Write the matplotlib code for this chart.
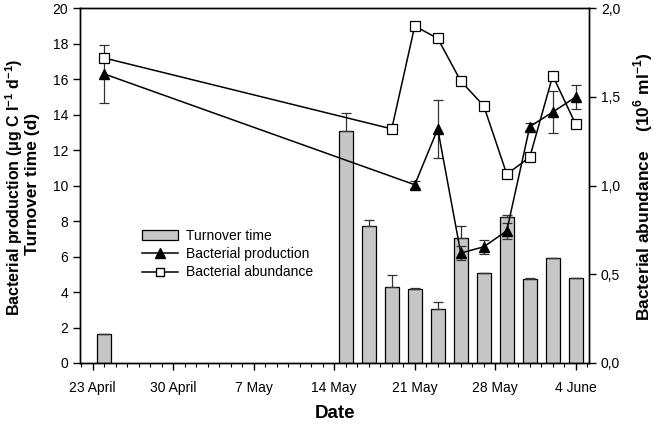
import numpy as np
import pandas as pd
import matplotlib
matplotlib.use("Agg")
import matplotlib.pyplot as plt
import matplotlib.dates as mdates
from matplotlib.patches import Patch
from matplotlib.lines import Line2D

plt.rcParams['font.family'] = ['Liberation Sans', 'DejaVu Sans']
plt.rcParams['mathtext.fontset'] = 'custom'
plt.rcParams['mathtext.rm'] = 'Liberation Sans'
plt.rcParams['mathtext.bf'] = 'Liberation Sans:bold'

# turnover time (bars, left axis, d)
bar_dates = ['2000-04-24', '2000-05-15', '2000-05-17', '2000-05-19', '2000-05-21', '2000-05-23',
             '2000-05-25', '2000-05-27', '2000-05-29', '2000-05-31', '2000-06-02', '2000-06-04']
turnover = [1.65, 13.1, 7.7, 4.3, 4.15, 3.05, 7.05, 5.05, 8.25, 4.75, 5.9, 4.78]
turnover_err = [0.0, 1.0, 0.35, 0.65, 0.1, 0.4, 0.7, 0.05, 0.1, 0.07, 0.03, 0.04]

# bacterial production (left axis, ug C l-1 d-1)
prod_dates = ['2000-04-24', '2000-05-21', '2000-05-23', '2000-05-25', '2000-05-27',
              '2000-05-29', '2000-05-31', '2000-06-02', '2000-06-04']
production = [16.3, 10.05, 13.2, 6.2, 6.55, 7.45, 13.33, 14.15, 15.0]
production_err = [1.65, 0.2, 1.65, 0.4, 0.38, 0.45, 0.2, 1.2, 0.7]

# bacterial abundance (right axis, 10^6 ml-1)
abund_dates = ['2000-04-24', '2000-05-19', '2000-05-21', '2000-05-23', '2000-05-25',
               '2000-05-27', '2000-05-29', '2000-05-31', '2000-06-02', '2000-06-04']
abundance = [1.72, 1.32, 1.90, 1.83, 1.59, 1.45, 1.065, 1.16, 1.62, 1.345]

tick_dates = ['2000-04-23', '2000-04-30', '2000-05-07', '2000-05-14', '2000-05-21', '2000-05-28', '2000-06-04']
tick_labels = ['23 April', '30 April', '7 May', '14 May', '21 May', '28 May', '4 June']

bx = mdates.date2num(pd.to_datetime(bar_dates))
px = mdates.date2num(pd.to_datetime(prod_dates))
ax_ = mdates.date2num(pd.to_datetime(abund_dates))
tx = mdates.date2num(pd.to_datetime(tick_dates))

fig = plt.figure(figsize=(6.57, 4.24), dpi=100)
ax = fig.add_axes([0.1218, 0.1439, 0.7747, 0.8365])
ax2 = ax.twinx()

ax.bar(bx, turnover, width=1.25, color='#c6c6c6', edgecolor='black', linewidth=0.9, zorder=2)
ax.errorbar(bx, turnover, yerr=[np.zeros(len(turnover)), turnover_err], fmt='none',
            ecolor='#333333', elinewidth=0.9, capsize=3.5, capthick=0.9, zorder=2)

ax.errorbar(px, production, yerr=production_err, fmt='none', ecolor='#333333',
            elinewidth=0.9, capsize=3.5, capthick=0.9, zorder=3)
ax.plot(px, production, color='black', lw=1.1, marker='^', ms=7.5, mfc='black', mec='black', zorder=4)

ax2.plot(ax_, abundance, color='black', lw=1.1, marker='s', ms=6.5, mfc='white', mec='black', mew=0.9, zorder=4)

ax.set_xlim(tx[0] - 1.1, tx[-1] + 1.15)
ax.set_ylim(0, 20)
ax2.set_ylim(0, 2.0)

ax.set_xticks(tx)
ax.set_xticklabels(tick_labels)
ax.xaxis.set_minor_locator(mdates.DayLocator())
ax.set_yticks(np.arange(0, 21, 2))
ax2.set_yticks(np.arange(0, 2.01, 0.5))
ax2.set_yticklabels([f'{v:.1f}'.replace('.', ',') for v in np.arange(0, 2.01, 0.5)])

ax.tick_params(axis='both', which='major', direction='out', length=5, width=1, labelsize=10)
ax.tick_params(axis='x', which='minor', direction='out', length=3, width=0.8)
ax.tick_params(axis='x', pad=8)
ax2.tick_params(axis='y', direction='out', length=5, width=1, labelsize=10)

for a in (ax, ax2):
    for s in a.spines.values():
        s.set_linewidth(1)

ax.set_xlabel('Date', fontsize=13.5, fontweight='bold', labelpad=7)

# y labels placed as figure text
fig.text(14 / 657, 1 - 187 / 424, 'Bacterial production ($\\mathbf{\\mu}$g C l$^{\\mathbf{-1}}$ d$^{\\mathbf{-1}}$)',
         rotation=90, ha='center', va='center', fontsize=11.5, fontweight='bold')
fig.text(33 / 657, 1 - 184 / 424, 'Turnover time (d)', rotation=90, ha='center', va='center',
         fontsize=12.5, fontweight='bold')
fig.text(643 / 657, 1 - 187 / 424, 'Bacterial abundance    (10$^{\\mathbf{6}}$ ml$^{\\mathbf{-1}}$)',
         rotation=90, ha='center', va='center', fontsize=12.5, fontweight='bold')

handles = [Patch(facecolor='#c6c6c6', edgecolor='black', linewidth=0.9),
           Line2D([], [], color='black', lw=1.1, marker='^', ms=7, mfc='black'),
           Line2D([], [], color='black', lw=1.1, marker='s', ms=6, mfc='white')]
ax.legend(handles, ['Turnover time', 'Bacterial production', 'Bacterial abundance'],
          loc='upper left', bbox_to_anchor=(0.11, 0.393), frameon=False, fontsize=10,
          handlelength=2.6, handletextpad=0.6, labelspacing=0.3, borderaxespad=0)

fig.savefig('out.png', dpi=100)
